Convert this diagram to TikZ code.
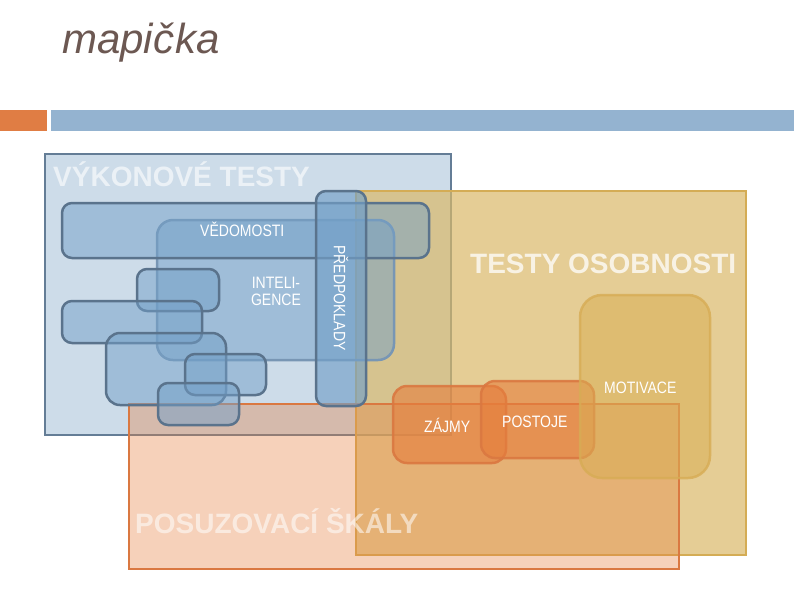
\documentclass[tikz,border=0pt]{standalone}
\usepackage{fontspec}
\setmainfont{Liberation Sans}
\newfontfamily\narrowfont[FakeStretch=0.85]{Liberation Sans}
\definecolor{titlec}{RGB}{108,88,82}
\definecolor{barorange}{RGB}{224,125,68}
\definecolor{barblue}{RGB}{148,179,208}
\definecolor{vykfill}{RGB}{205,220,233}
\definecolor{vykdraw}{RGB}{100,125,150}
\definecolor{bluefill}{RGB}{115,160,200}
\definecolor{bluedraw}{RGB}{90,115,140}
\definecolor{bluelight}{RGB}{120,150,180}
\definecolor{goldfill}{RGB}{218,185,105}
\definecolor{golddraw}{RGB}{212,172,85}
\definecolor{orfill}{RGB}{230,125,60}
\definecolor{ordraw}{RGB}{218,120,65}
\definecolor{motfill}{RGB}{218,175,85}
\definecolor{motdraw}{RGB}{215,172,85}
\begin{document}
\begin{tikzpicture}[x=1pt,y=-1pt,
  vykbox/.style={fill=vykfill,draw=vykdraw,line width=2.2pt},
  osobbox/.style={fill=goldfill,fill opacity=0.7,draw=golddraw,line width=2.2pt},
  posbox/.style={fill=orfill,fill opacity=0.35,draw=ordraw,line width=2.2pt},
  bluebox/.style={rounded corners=10pt,fill=bluefill,fill opacity=0.5,draw=bluedraw,line width=2.5pt},
  orbox/.style={rounded corners=14pt,fill=orfill,fill opacity=0.6,draw=ordraw,draw opacity=0.9,line width=2.5pt},
  motbox/.style={rounded corners=22pt,fill=motfill,fill opacity=0.55,draw=motdraw,draw opacity=0.8,line width=2.5pt},
  bigtext/.style={font=\bfseries\fontsize{28}{30}\selectfont,text=white,text opacity=0.6,inner sep=0pt,anchor=base west},
  smallfont/.style={font=\narrowfont\fontsize{16.5}{17}\selectfont,text=white,inner sep=0pt},
  smalltext/.style={smallfont,anchor=base west}]
\useasboundingbox (0,0) rectangle (794,595);
\fill[white] (0,0) rectangle (794,595);
% title and bars
\node[font=\itshape\fontsize{42}{42}\selectfont,text=titlec,inner sep=0pt,anchor=base west] (title) at (62,53) {mapi\kern0.5pt č\kern0.5pt k\kern0.5pt a};
\fill[barorange] (0,110) rectangle (47,131);
\fill[barblue] (51,110) rectangle (794,131);
% big boxes
\draw[vykbox] (45,154) rectangle (451,435);
\draw[osobbox] (356,191) rectangle (746,555);
\draw[posbox] (129,404) rectangle (679,569);
% blue rounded boxes
\draw[bluebox,rounded corners=16pt,draw=bluelight] (157,220) rectangle (394,360);
\draw[bluebox] (62,203) rectangle (429,258);
\draw[bluebox] (137,269) rectangle (219,311);
\draw[bluebox] (62,301) rectangle (202,343);
\draw[bluebox,rounded corners=14pt] (106,333) rectangle (226,405);
\draw[bluebox] (185,354) rectangle (266,395);
\draw[bluebox] (158,383) rectangle (239,425);
\draw[bluebox,fill opacity=0.65] (316,191) rectangle (366,406);
% orange / gold inner boxes
\draw[orbox] (393,386) rectangle (506,463);
\draw[orbox] (481,381) rectangle (594,458);
\draw[motbox] (580,295) rectangle (710,478);
% labels
\node[bigtext] (vyk) at (53,186) {VÝKONOVÉ TESTY};
\node[bigtext,text opacity=0.75] (osob) at (470,273) {TESTY OSOBNOSTI};
\node[bigtext,text opacity=0.55] (posuz) at (135,533) {POSUZOVACÍ ŠKÁLY};
\node[smalltext] (vedom) at (200,236) {VĚDOMOSTI};
\node[smallfont,align=center,anchor=north] (intel) at (276,277) {INTELI-\\GENCE};
\node[smallfont,rotate=-90] (predp) at (341,298) {PŘEDPOKLADY};
\node[smalltext] (motiv) at (604,393) {MOTIVACE};
\node[smalltext] (zajmy) at (424,432) {ZÁJMY};
\node[smalltext] (post) at (502,427) {POSTOJE};
\end{tikzpicture}
\end{document}
